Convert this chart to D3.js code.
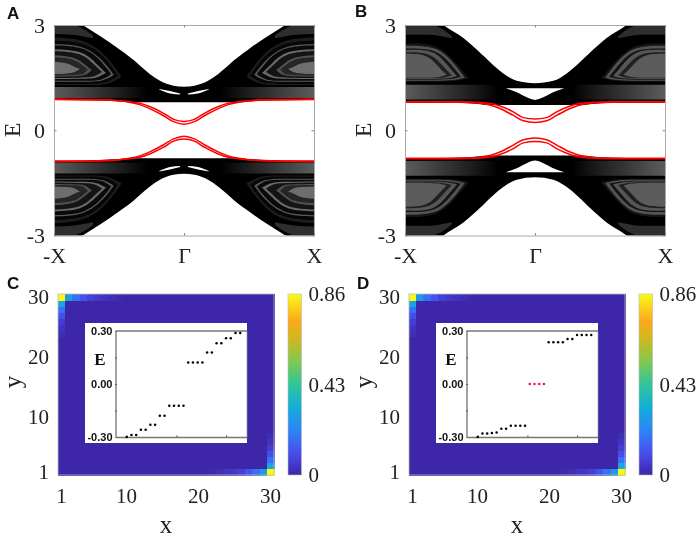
<!DOCTYPE html>
<html>
<head>
<meta charset="utf-8">
<script src="https://cdn.jsdelivr.net/npm/d3@7"></script>
<style>
  body { margin: 0; background: #fff; }
  svg { display: block; filter: blur(0.35px); }
  text { font-family: "Liberation Serif", serif; fill: #222; }
</style>
</head>
<body>
<svg id="fig" width="699" height="537"></svg>
<script>
// ---- data ----
// band panels: rows are [k, upper E, lower E], only the -X..Gamma half of the upper band,
// the other three quarters are mirrored when drawn
var bandA = [[-1,3.6,.885],[-.78,3,.87],[-.646,2.69,.85],[-.49,2.29,.82],[-.38,1.98,.80],[-.338,1.84,.80],[-.185,1.41,.80],[-.082,1.27,.80],[0,1.24,.80]];
var bandB = [[-1,4,.80],[-.705,3,.79],[-.551,2.63,.78],[-.42,2.2,.74],[-.397,2.12,.73],[-.244,1.62,.72],[-.141,1.41,.72],[0,1.34,.72]];
var redA = [[-1,.89,.88],[-.6,.87,.86],[-.42,.81,.80],[-.34,.77,.73],[-.26,.67,.61],[-.16,.49,.42],[-.08,.31,.245],[0,.25,.17]];
var redB = [[-1,.81,.80],[-.6,.81,.80],[-.42,.79,.77],[-.34,.76,.71],[-.27,.69,.62],[-.17,.53,.43],[-.09,.36,.27],[0,.32,.22]];
var slitA = [[-.19,1.175,1.165],[-.108,1.12,1.05],[-.03,1.05,1.02]];
var slitB = [[-.22,1.2,1.19],[-.14,1.2,1.08],[-.06,1.2,.93],[0,1.2,.865]];
var shoulderA = [[-1,3,2.74],[-.86,3,2.72],[-.78,2.9,2.68],[-.7,2.7,2.62]];
var shoulderB = [[-1,3,2.72],[-.8,3,2.72],[-.72,2.9,2.68],[-.64,2.68,2.62]];
var stripA = [[-1,1.23,.92],[-.25,1.23,.92]];
var stripB = [[-1,1.30,.88],[-.3,1.30,.88]];
var ringsA = [
  [[-1,2.65,1.29],[-.77,2.53,1.29],[-.6,2.10,1.32],[-.48,1.52,1.52]],
  [[-1,2.56,1.32],[-.77,2.45,1.32],[-.61,2.05,1.36],[-.51,1.55,1.55]],
  [[-1,2.46,1.38],[-.78,2.36,1.38],[-.63,1.99,1.42],[-.54,1.58,1.58]],
  [[-1,2.42,1.41],[-.78,2.32,1.41],[-.64,1.97,1.44],[-.56,1.60,1.60]],
  [[-1,2.31,1.46],[-.8,2.22,1.47],[-.68,1.92,1.50],[-.6,1.63,1.63]],
  [[-1,2.26,1.49],[-.81,2.17,1.50],[-.7,1.90,1.53],[-.63,1.66,1.66]],
  [[-1,2.14,1.53],[-.85,2.07,1.54],[-.76,1.87,1.58],[-.71,1.72,1.72]],
  [[-1,2.08,1.56],[-.86,2.02,1.57],[-.78,1.85,1.60],[-.74,1.73,1.73]],
  [[-1,1.95,1.60],[-.9,1.9,1.62],[-.84,1.8,1.66],[-.8,1.75,1.75]]
];
var ringsB = [
  [[-1,2.47,1.38],[-.78,2.40,1.38],[-.63,2.0,1.40],[-.51,1.48,1.48]],
  [[-1,2.41,1.41],[-.78,2.34,1.41],[-.64,1.97,1.43],[-.54,1.50,1.50]],
  [[-1,2.33,1.44],[-.79,2.27,1.44],[-.66,1.93,1.46],[-.57,1.52,1.52]],
  [[-1,2.29,1.46],[-.8,2.24,1.46],[-.68,1.89,1.48],[-.6,1.54,1.54]],
  [[-1,2.22,1.48],[-.82,2.16,1.48],[-.71,1.84,1.50],[-.64,1.56,1.56]],
  [[-1,2.18,1.50],[-.84,2.11,1.50],[-.74,1.8,1.52],[-.68,1.58,1.58]]
];
var bandTicksY = [-3, 0, 3];
var bandTicksX = [-1, 0, 1];
var bandLabelsX = ["-X", "Γ", "X"];

// corner weights of the in-gap state, read cell by cell from the corner out
var cornerRow = [.86, .27, .17, .11, .07, .05, .035, .02, .01];
var cornerCol = [.86, .30, .17, .10, .06, .035, .02];
var heatTicks = [1, 10, 20, 30];
var barTicks = [0, .43, .86];

// inset levels
var levelsC = [-.30,-.288,-.288,-.259,-.259,-.231,-.231,-.18,-.18,-.123,-.123,-.123,-.123,.121,.121,.121,.121,.178,.178,.231,.231,.259,.259,.288,.288];
var levelsD = [-.30,-.28,-.28,-.278,-.275,-.254,-.254,-.236,-.236,-.236,-.236,0,0,0,0,.236,.236,.236,.236,.255,.255,.278,.278,.278,.278];
var midLevelsD = [11, 12, 13, 14];
var insetTicksX = [0, 10.5, 21];
var insetTicksY = [-.30, -.15, 0, .15, .30];

// parula-like map
var mapStops = [0, .125, .25, .375, .5, .625, .75, .85, 1];
var mapColors = ["#3e26a8", "#4750f0", "#2d86f5", "#12aed8", "#2fc59a", "#7fc950", "#d0b820", "#fba91c", "#f9fb15"];

// ---- styles ----
var greysA = ["#1c1c1c", "#060606", "#5a5a5a", "#0a0a0a", "#6a6a6a", "#141414", "#505050", "#262626", "#6e6e6e"];
var greysB = ["#161616", "#545454", "#141414", "#565656", "#202020", "#5c5c5c"];

var svg = d3.select("#fig");
var defs = svg.append("defs");

var colour = d3.scaleLinear()
  .domain(mapStops.map(function (d) { return d * .86; }))
  .range(mapColors);

function mirrored(rows) {
  var back = rows.filter(function (r) { return r[0] < 0; })
    .map(function (r) { return [-r[0], r[1], r[2]]; }).reverse();
  return rows.concat(back);
}

function flip(rows, sx, sy) {
  var out = rows.map(function (r) { return [sx * r[0], sy * r[1], sy * r[2]]; });
  return sx < 0 ? out.reverse() : out;
}

function styleAxis(g, size) {
  g.select(".domain").attr("stroke", "#a8a8a8").attr("stroke-width", 1);
  g.selectAll(".tick line").attr("stroke", "#888");
  g.selectAll("text").attr("font-size", size);
}

function bandPanel(id, left, band, red, slit, shoulder, strip, rings, greys, wedge) {
  var x = d3.scaleLinear().domain([-1, 1]).range([left, left + 260]);
  var y = d3.scaleLinear().domain([-3, 3]).range([235.5, 25]);

  var area = d3.area()
    .x(function (d) { return x(d[0]); })
    .y0(function (d) { return y(d[2]); })
    .y1(function (d) { return y(d[1]); })
    .curve(d3.curveMonotoneX);
  var ringArea = d3.area()
    .x(function (d) { return x(d[0]); })
    .y0(function (d) { return y(d[2]); })
    .y1(function (d) { return y(d[1]); })
    .curve(d3.curveNatural);

  defs.append("clipPath").attr("id", "clip" + id)
    .append("rect").attr("x", left).attr("y", 25).attr("width", 260).attr("height", 210.5);

  var grad = defs.append("linearGradient").attr("id", "fade" + id)
    .attr("gradientUnits", "userSpaceOnUse")
    .attr("x1", x(0)).attr("x2", x(1)).attr("y1", 0).attr("y2", 0)
    .attr("spreadMethod", "reflect");
  grad.append("stop").attr("offset", "28%").attr("stop-color", "#000");
  grad.append("stop").attr("offset", "48%").attr("stop-color", "#1c1c1c");
  grad.append("stop").attr("offset", "100%").attr("stop-color", "#5c5c5c");

  var g = svg.append("g").attr("clip-path", "url(#clip" + id + ")");
  [1, -1].forEach(function (sy) {
    g.append("path").attr("d", area(flip(mirrored(band), 1, sy))).attr("fill", "#000");
    [1, -1].forEach(function (sx) {
      g.append("path").attr("d", area(flip(shoulder, sx, sy))).attr("fill", "#2e2e2e");
      g.append("path").attr("d", area(flip(strip, sx, sy))).attr("fill", "url(#fade" + id + ")");
      rings.forEach(function (r, i) {
        g.append("path").attr("d", ringArea(flip(r, sx, sy))).attr("fill", greys[i]);
      });
      if (!wedge) g.append("path").attr("d", area(flip(slit, sx, sy))).attr("fill", "#fff");
    });
    if (wedge) g.append("path").attr("d", area(flip(mirrored(slit), 1, sy))).attr("fill", "#fff");

    var line1 = d3.line().x(function (d) { return x(d[0]); }).y(function (d) { return y(d[1]); }).curve(d3.curveMonotoneX);
    var line2 = d3.line().x(function (d) { return x(d[0]); }).y(function (d) { return y(d[2]); }).curve(d3.curveMonotoneX);
    var rows = flip(mirrored(red), 1, sy);
    [line1, line2].forEach(function (l) {
      g.append("path").attr("d", l(rows)).attr("fill", "none").attr("stroke", "#f00").attr("stroke-width", 1.5);
    });
  });

  svg.append("g").attr("transform", "translate(" + left + ",0)")
    .call(d3.axisLeft(y).tickValues(bandTicksY).tickSize(-2.5).tickPadding(9).tickSizeOuter(0)
      .tickFormat(function (d) { return d < 0 ? "-" + (-d) : "" + d; }))
    .call(styleAxis, 22);
  svg.append("g").attr("transform", "translate(" + (left + 260) + ",0)")
    .call(d3.axisRight(y).tickValues(bandTicksY).tickSize(-2.5).tickFormat("").tickSizeOuter(0))
    .call(styleAxis, 22);
  svg.append("g").attr("transform", "translate(0,235.5)")
    .call(d3.axisBottom(x).tickValues(bandTicksX).tickSize(-2.5).tickPadding(12).tickSizeOuter(0)
      .tickFormat(function (d, i) { return bandLabelsX[i]; }))
    .call(styleAxis, 22);
  svg.append("g").attr("transform", "translate(0,25)")
    .call(d3.axisTop(x).tickValues(bandTicksX).tickSize(-2.5).tickFormat("").tickSizeOuter(0))
    .call(styleAxis, 22);

  svg.append("text").attr("transform", "translate(" + (left - 34) + ",130) rotate(-90)")
    .attr("text-anchor", "middle").attr("font-size", 24).text("E");
}

function heatPanel(id, left, levels) {
  var cells = d3.range(1, 31);
  var x = d3.scaleBand().domain(cells).range([left, left + 216]);
  var y = d3.scaleBand().domain(cells).range([475, 294]);

  var data = d3.cross(cells, cells).map(function (c) {
    var i = c[0], j = c[1], v = 0;
    if (j === 30 && i <= cornerRow.length) v = cornerRow[i - 1];
    if (i === 1 && 31 - j <= cornerCol.length) v = Math.max(v, cornerCol[30 - j]);
    if (j === 1 && 31 - i <= cornerRow.length) v = cornerRow[30 - i];
    if (i === 30 && j <= cornerCol.length) v = Math.max(v, cornerCol[j - 1]);
    return { i: i, j: j, v: v };
  });

  svg.append("g").attr("shape-rendering", "crispEdges").selectAll("rect").data(data).enter().append("rect")
    .attr("x", function (d) { return x(d.i); })
    .attr("y", function (d) { return y(d.j); })
    .attr("width", x.bandwidth() + .5)
    .attr("height", y.bandwidth() + .5)
    .attr("fill", function (d) { return colour(d.v); });

  svg.append("rect").attr("x", left).attr("y", 294).attr("width", 216).attr("height", 181)
    .attr("fill", "none").attr("stroke", "#bbb").attr("stroke-width", .8);

  svg.append("g").attr("transform", "translate(0,475)")
    .call(d3.axisBottom(x).tickValues(heatTicks).tickSize(0).tickPadding(13))
    .call(styleAxis, 21).select(".domain").remove();
  svg.append("g").attr("transform", "translate(" + left + ",0)")
    .call(d3.axisLeft(y).tickValues(heatTicks).tickSize(0).tickPadding(9))
    .call(styleAxis, 21).select(".domain").remove();

  svg.append("text").attr("x", left + 108).attr("y", 533).attr("text-anchor", "middle").attr("font-size", 25).text("x");
  svg.append("text").attr("transform", "translate(" + (left - 37) + ",382) rotate(-90)")
    .attr("text-anchor", "middle").attr("font-size", 25).text("y");

  // colorbar
  var barLeft = left + 230;
  var v = d3.scaleLinear().domain([0, .86]).range([475, 294]);
  var grad = defs.append("linearGradient").attr("id", "bar" + id)
    .attr("x1", 0).attr("x2", 0).attr("y1", 1).attr("y2", 0);
  mapStops.forEach(function (s, i) {
    grad.append("stop").attr("offset", s * 100 + "%").attr("stop-color", mapColors[i]);
  });
  svg.append("rect").attr("x", barLeft).attr("y", 294).attr("width", 13.5).attr("height", 181)
    .attr("fill", "url(#bar" + id + ")").attr("stroke", "#bbb").attr("stroke-width", .6);
  svg.append("g").attr("transform", "translate(" + (barLeft + 13.5) + ",0)")
    .call(d3.axisRight(v).tickValues(barTicks).tickSize(0).tickPadding(7)
      .tickFormat(function (d) { return d === 0 ? "0" : d3.format(".2f")(d); }))
    .call(styleAxis, 21).select(".domain").remove();

  // inset
  var axLeft = left + 57.5, axRight = left + 189;
  svg.append("rect").attr("x", left + 27).attr("y", 323).attr("width", 162).attr("height", 120).attr("fill", "#fff");
  var ix = d3.scaleLinear().domain([-2.37, 25.43]).range([axLeft, axRight]);
  var iy = d3.scaleLinear().domain([-.30, .30]).range([437, 331]);

  svg.append("g").attr("transform", "translate(" + axLeft + ",0)")
    .call(d3.axisLeft(iy).tickValues(insetTicksY).tickSize(-1.5).tickPadding(3).tickSizeOuter(0)
      .tickFormat(function (d) { return Math.abs(d) === .15 ? "" : d3.format(".2f")(d).replace("−", "-"); }))
    .call(function (g) {
      g.select(".domain").attr("stroke", "#666").attr("stroke-width", 1.2);
      g.selectAll(".tick line").attr("stroke", "#444");
      g.selectAll("text").attr("font-size", 11).attr("font-weight", "bold")
        .style("font-family", '"Liberation Sans", sans-serif').style("fill", "#111");
    });
  svg.append("g").attr("transform", "translate(0,437)")
    .call(d3.axisBottom(ix).tickValues(insetTicksX).tickSize(-1.5).tickFormat("").tickSizeOuter(0))
    .call(function (g) {
      g.select(".domain").attr("stroke", "#777").attr("stroke-width", 1.4);
      g.selectAll(".tick line").attr("stroke", "#444");
    });
  svg.append("line").attr("x1", axLeft).attr("x2", axRight).attr("y1", 331).attr("y2", 331)
    .attr("stroke", "#777").attr("stroke-width", 1.4);
  svg.append("line").attr("x1", axRight).attr("x2", axRight).attr("y1", 331).attr("y2", 437)
    .attr("stroke", "#999").attr("stroke-width", .7);

  svg.append("text").attr("x", left + 42).attr("y", 365).attr("text-anchor", "middle")
    .attr("font-size", 17).attr("font-weight", "bold").style("fill", "#111").text("E");

  svg.append("g").selectAll("circle").data(levels).enter().append("circle")
    .attr("cx", function (d, i) { return ix(i); })
    .attr("cy", function (d) { return iy(d); })
    .attr("r", 1.25)
    .attr("fill", function (d, i) { return id === "D" && midLevelsD.indexOf(i) >= 0 ? "#f5143c" : "#000"; });
}

bandPanel("A", 54, bandA, redA, slitA, shoulderA, stripA, ringsA, greysA, false);
bandPanel("B", 405, bandB, redB, slitB, shoulderB, stripB, ringsB, greysB, true);
heatPanel("C", 58, levelsC);
heatPanel("D", 409, levelsD);

var letters = [["A", 7, 18.5], ["B", 355, 17], ["C", 7, 289], ["D", 357, 289]];
svg.append("g").selectAll("text").data(letters).enter().append("text")
  .attr("x", function (d) { return d[1]; })
  .attr("y", function (d) { return d[2]; })
  .attr("font-weight", "bold").attr("font-size", 17)
  .style("font-family", '"Liberation Sans", sans-serif').style("fill", "#111")
  .text(function (d) { return d[0]; });
</script>
</body>
</html>
